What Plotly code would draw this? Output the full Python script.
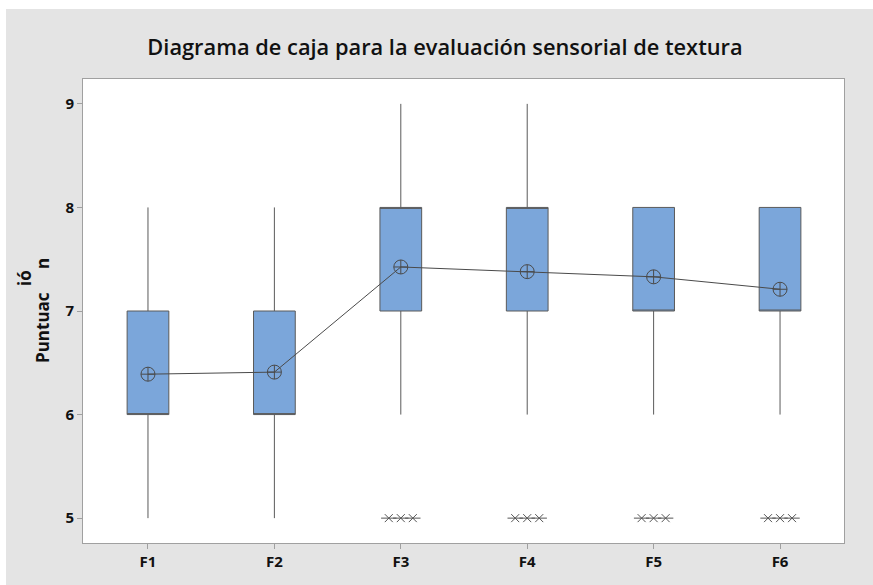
import plotly.graph_objects as go

# Sensory texture scores per formulation
categories = ["F1", "F2", "F3", "F4", "F5", "F6"]
q1 = [6, 6, 7, 7, 7, 7]
median = [6, 6, 8, 8, 7, 7]
q3 = [7, 7, 8, 8, 8, 8]
whisker_low = [5, 5, 6, 6, 6, 6]
whisker_high = [8, 8, 9, 9, 8, 8]
means = [6.39, 6.41, 7.425, 7.38, 7.33, 7.21]
# Outlying scores (ties are spread side by side)
outliers = [[], [], [5, 5, 5], [5, 5, 5], [5, 5, 5], [5, 5, 5]]

W, H = 873, 585
L, R, T, B = 83, 29, 79, 42
PW, PH = W - L - R, H - T - B

def px_x(p):
    return (p - L) / PW

def px_y(p):
    return 1 - (p - T) / PH

xpos = list(range(len(categories)))

fig = go.Figure()

fig.add_trace(go.Box(
    x=xpos, q1=q1, median=median, q3=q3,
    lowerfence=whisker_low, upperfence=whisker_high,
    width=0.33, whiskerwidth=0,
    fillcolor="rgb(123,166,218)",
    line=dict(color="#5a5a5a", width=1),
    boxpoints=False, showlegend=False, hoverinfo="skip",
))

# Mean connect line with circle-cross symbols
fig.add_trace(go.Scatter(
    x=xpos, y=means, mode="lines+markers",
    line=dict(color="#4a4a4a", width=1),
    marker=dict(symbol="circle-cross-open", size=14,
                color="#4a4a4a", line=dict(width=1)),
    showlegend=False, hoverinfo="skip",
))

# Outliers drawn as six-point asterisks
ox, oy = [], []
spread = 0.095
for i, vals in enumerate(outliers):
    n = len(vals)
    for k, v in enumerate(vals):
        ox.append(i + (k - (n - 1) / 2) * spread)
        oy.append(v)
for sym, sz in (("x-thin-open", 8), ("line-ew-open", 11)):
    fig.add_trace(go.Scatter(
        x=ox, y=oy, mode="markers",
        marker=dict(symbol=sym, size=sz,
                    color="#555555", line=dict(width=1, color="#555555")),
        showlegend=False, hoverinfo="skip",
    ))

tick_font = dict(family="Open Sans", size=15, color="#111111", weight="bold")

fig.update_xaxes(
    range=[-0.514, 5.506], tickvals=xpos, ticktext=categories,
    showgrid=False, zeroline=False, ticks="outside", ticklen=5,
    tickcolor="#a0a0a0", showline=True, linecolor="#a0a0a0", linewidth=1,
    mirror=True, tickfont=tick_font,
)
fig.update_yaxes(
    range=[4.76, 9.24], tickvals=[5, 6, 7, 8, 9],
    showgrid=False, zeroline=False, ticks="outside", ticklen=5,
    tickcolor="#a0a0a0", showline=True, linecolor="#a0a0a0", linewidth=1,
    mirror=True, tickfont=tick_font,
)

label_font = dict(family="Open Sans", size=17, color="#111111", weight="bold")
fig.update_layout(
    width=W, height=H,
    margin=dict(l=L, r=R, t=T, b=B),
    paper_bgcolor="#e4e4e4", plot_bgcolor="white",
    title=dict(text="Diagrama de caja para la evaluación sensorial de textura",
               x=px_x(445), xref="paper", xanchor="center",
               y=1 - 47 / H, yanchor="middle",
               font=dict(family="Open Sans", size=21.8, color="#111111", weight=600)),
    shapes=[
        dict(type="rect", xref="paper", yref="paper", layer="below",
             x0=px_x(0), x1=px_x(W), y0=px_y(9), y1=px_y(0),
             fillcolor="white", line=dict(width=0)),
        dict(type="rect", xref="paper", yref="paper", layer="below",
             x0=px_x(0), x1=px_x(6), y0=px_y(H), y1=px_y(0),
             fillcolor="white", line=dict(width=0)),
    ],
    annotations=[
        dict(text="Puntuac", textangle=-90, xref="paper", yref="paper",
             x=px_x(42), y=px_y(328), xanchor="center", yanchor="middle",
             showarrow=False, font=label_font),
        dict(text="ió", textangle=-90, xref="paper", yref="paper",
             x=px_x(24), y=px_y(278), xanchor="center", yanchor="middle",
             showarrow=False, font=label_font),
        dict(text="n", textangle=-90, xref="paper", yref="paper",
             x=px_x(42), y=px_y(264), xanchor="center", yanchor="middle",
             showarrow=False, font=label_font),
    ],
)

fig.write_html("out.html")
